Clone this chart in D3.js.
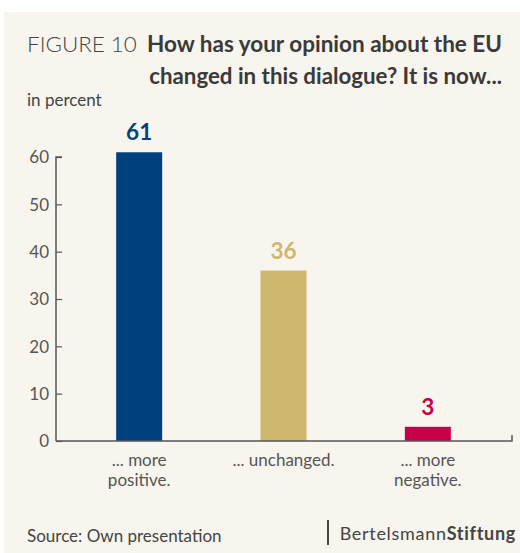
<!DOCTYPE html>
<html><head><meta charset="utf-8">
<script src="https://cdn.jsdelivr.net/npm/d3@7/dist/d3.min.js"></script>
<style>body{margin:0;background:#fff}svg{display:block}</style>
</head><body>
<script>
const categories = ["... more|positive.", "... unchanged.", "... more|negative."];
const values = [61, 36, 3];
const colors = ["#00427d", "#cfb76d", "#c60048"];
const yTicks = [0, 10, 20, 30, 40, 50, 60];

const W = 520, H = 553;
const svg = d3.select("body").append("svg").attr("width", W).attr("height", H);
const font = "Lato, 'Open Sans', sans-serif";
svg.append("rect").attr("x", 4).attr("y", 12).attr("width", W - 4).attr("height", H - 12).attr("fill", "#f7f5ee");

svg.append("text").attr("x", 27).attr("y", 52).attr("font-family", font).attr("font-weight", 300)
  .attr("font-size", 22.4).attr("fill", "#444").text("FIGURE 10");
svg.append("text").attr("x", 502).attr("y", 52).attr("text-anchor", "end").attr("font-family", font).attr("font-weight", 700)
  .attr("font-size", 22.5).attr("fill", "#3a3a3a").text("How has your opinion about the EU");
svg.append("text").attr("x", 502).attr("y", 84).attr("text-anchor", "end").attr("font-family", font).attr("font-weight", 700)
  .attr("font-size", 22.3).attr("fill", "#3a3a3a").text("changed in this dialogue? It is now...");
svg.append("text").attr("x", 27).attr("y", 106).attr("font-family", font)
  .attr("font-size", 17).attr("fill", "#444").text("in percent");

const y = d3.scaleLinear().domain([0, 60]).range([441, 157]);
const x = d3.scaleBand().domain(categories).range([67, 500]);
const bw = 46;

const yAxis = svg.append("g").attr("transform", "translate(56,0)")
  .call(d3.axisRight(y).tickValues(yTicks).tickSize(6).tickFormat(""));
yAxis.select(".domain").attr("d", "M6,157H0V441").attr("stroke", "#555").attr("stroke-width", 1.5).attr("fill", "none");
yAxis.selectAll(".tick line").attr("stroke", "#555").attr("stroke-width", 1.2);
yAxis.selectAll(".tick").append("text").attr("x", -7).attr("dy", "0.35em").attr("text-anchor", "end")
  .attr("font-family", font).attr("font-size", 17).attr("fill", "#555").text(d => d);

svg.append("g").selectAll("rect").data(values).join("rect")
  .attr("x", (d, i) => x(categories[i]) + x.bandwidth() / 2 - bw / 2)
  .attr("width", bw)
  .attr("y", d => y(d)).attr("height", d => y(0) - y(d))
  .attr("fill", (d, i) => colors[i]);

svg.append("path").attr("d", `M56,${y(0)}H512V${y(0) - 6}`).attr("stroke", "#555").attr("stroke-width", 1.5).attr("fill", "none");

svg.append("g").selectAll("text").data(values).join("text")
  .attr("x", (d, i) => x(categories[i]) + x.bandwidth() / 2)
  .attr("y", d => y(d) - 12)
  .attr("text-anchor", "middle").attr("font-family", font).attr("font-weight", 700).attr("font-size", 22.5)
  .attr("fill", (d, i) => colors[i]).text(d => d);

const xl = svg.append("g").selectAll("text").data(categories).join("text")
  .attr("x", d => x(d) + x.bandwidth() / 2).attr("y", 466)
  .attr("text-anchor", "middle").attr("font-family", font).attr("font-size", 17).attr("fill", "#555");
xl.each(function(d) {
  const parts = d.split("|");
  parts.forEach((p, i) => d3.select(this).append("tspan").attr("x", x(d) + x.bandwidth() / 2).attr("dy", i ? 19.5 : 0).text(p));
});

svg.append("text").attr("x", 27).attr("y", 542).attr("font-family", font)
  .attr("font-size", 17).attr("fill", "#444").text("Source: Own presentation");
svg.append("line").attr("x1", 328).attr("x2", 328).attr("y1", 520).attr("y2", 545).attr("stroke", "#444").attr("stroke-width", 2);
const logo = svg.append("text").attr("x", 516).attr("y", 540).attr("text-anchor", "end").attr("font-family", font)
  .attr("font-size", 18).attr("fill", "#444").attr("letter-spacing", 0.7);
logo.append("tspan").text("Bertelsmann");
logo.append("tspan").attr("font-weight", 700).text("Stiftung");
</script>
</body></html>
